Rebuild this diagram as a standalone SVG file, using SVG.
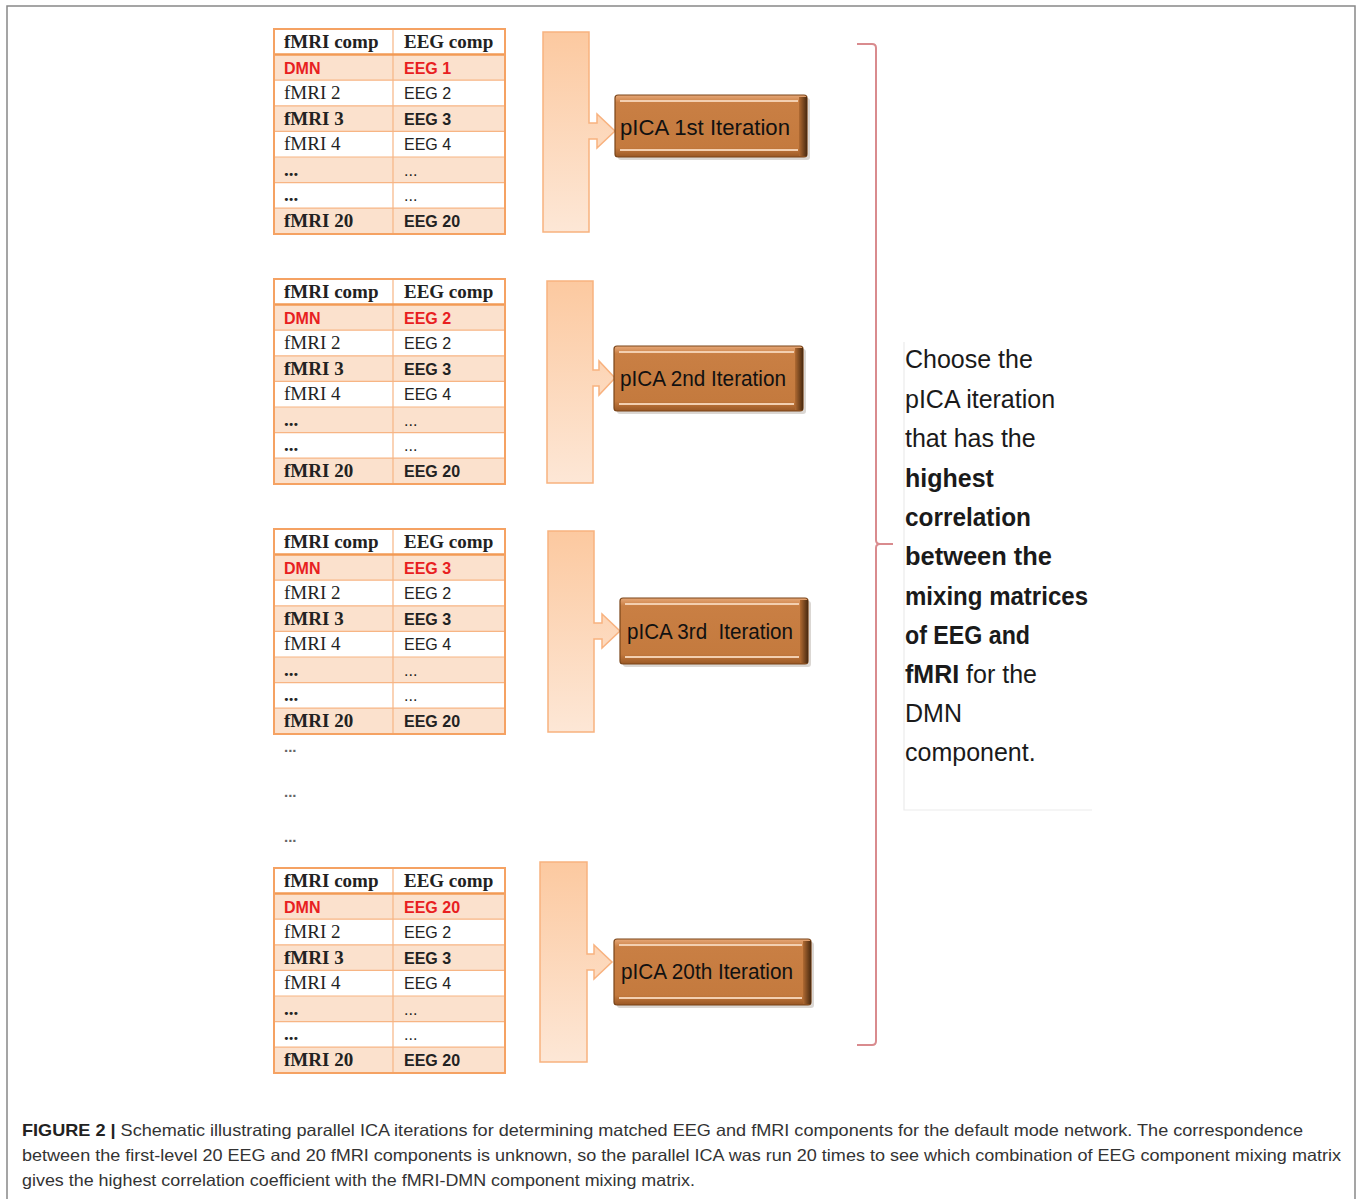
<svg xmlns="http://www.w3.org/2000/svg" width="1357" height="1199" viewBox="0 0 1357 1199">
<defs>
<linearGradient id="barG" x1="0" y1="0" x2="0" y2="1">
<stop offset="0" stop-color="#fcc9a0"/>
<stop offset="1" stop-color="#fde7d6"/>
</linearGradient>
<linearGradient id="boxG" x1="0" y1="0" x2="0" y2="1">
<stop offset="0" stop-color="#e7a878"/>
<stop offset="0.12" stop-color="#c97f44"/>
<stop offset="0.85" stop-color="#c47a3e"/>
<stop offset="1" stop-color="#9a5825"/>
</linearGradient>
<linearGradient id="edgeG" x1="0" y1="0" x2="1" y2="0">
<stop offset="0" stop-color="#b06a32"/>
<stop offset="1" stop-color="#4a2a10"/>
</linearGradient>
</defs>
<style>
.frame{fill:none;stroke:#888;stroke-width:1.5}
.tb{fill:none;stroke:#f5a263;stroke-width:2}
.tl{stroke:#f7b584;stroke-width:1.2}
.th{stroke:#f29a55;stroke-width:2.5}
.sh{fill:#fbe1cd}
.ser{font-family:"Liberation Serif",serif;font-size:19px;fill:#222}
.san{font-family:"Liberation Sans",sans-serif;font-size:16px;fill:#222}
.b{font-weight:bold}
.red{fill:#e8201f}
.bar{fill:url(#barG);stroke:#f8b27f;stroke-width:1.5}
.box{fill:url(#boxG);stroke:#7a4519;stroke-width:1.2}
.hl{stroke:#f3cfb0;stroke-width:2;fill:none}
.bt{font-family:"Liberation Sans",sans-serif;font-size:22px;fill:#111}
.dots{font-family:"Liberation Sans",sans-serif;font-size:15px;fill:#666;font-weight:bold}
.side{font-family:"Liberation Sans",sans-serif;font-size:25px;fill:#1a1a1a}
.cap{font-family:"Liberation Sans",sans-serif;font-size:16.5px;fill:#333}
.brace{fill:none;stroke:#d98b8e;stroke-width:2}
</style>
<path class="frame" d="M7,1199 V6 H1355 V1199"/>

<g id="table1" transform="translate(274,29)">
<rect class="sh" x="0" y="25.6" width="231" height="25.6"/>
<rect class="sh" x="0" y="76.8" width="231" height="25.6"/>
<rect class="sh" x="0" y="128" width="231" height="25.6"/>
<rect class="sh" x="0" y="179.2" width="231" height="25.8"/>
<line class="tl" x1="0" y1="51.2" x2="231" y2="51.2"/><line class="tl" x1="0" y1="76.8" x2="231" y2="76.8"/><line class="tl" x1="0" y1="102.4" x2="231" y2="102.4"/><line class="tl" x1="0" y1="128" x2="231" y2="128"/><line class="tl" x1="0" y1="153.6" x2="231" y2="153.6"/><line class="tl" x1="0" y1="179.2" x2="231" y2="179.2"/>
<line class="tl" x1="119" y1="0" x2="119" y2="205"/>
<line class="th" x1="0" y1="25.6" x2="231" y2="25.6"/>
<rect class="tb" x="0" y="0" width="231" height="205"/>
<text class="ser b" x="10" y="19">fMRI comp</text><text class="ser b" x="130" y="19">EEG comp</text>
<text class="san b red" x="10" y="45" font-size="17">DMN</text><text class="san b red" x="130" y="45">EEG 1</text>
<text class="ser" x="10" y="70">fMRI 2</text><text class="san" x="130" y="70">EEG 2</text>
<text class="ser b" x="10" y="96">fMRI 3</text><text class="san b" x="130" y="96">EEG 3</text>
<text class="ser" x="10" y="121">fMRI 4</text><text class="san" x="130" y="121">EEG 4</text>
<text class="ser b" x="10" y="147">...</text><text class="san" x="130" y="147">...</text>
<text class="ser b" x="10" y="172">...</text><text class="san" x="130" y="172">...</text>
<text class="ser b" x="10" y="198">fMRI 20</text><text class="san b" x="130" y="198">EEG 20</text>
</g>

<g id="table2" transform="translate(274,279)">
<rect class="sh" x="0" y="25.6" width="231" height="25.6"/>
<rect class="sh" x="0" y="76.8" width="231" height="25.6"/>
<rect class="sh" x="0" y="128" width="231" height="25.6"/>
<rect class="sh" x="0" y="179.2" width="231" height="25.8"/>
<line class="tl" x1="0" y1="51.2" x2="231" y2="51.2"/><line class="tl" x1="0" y1="76.8" x2="231" y2="76.8"/><line class="tl" x1="0" y1="102.4" x2="231" y2="102.4"/><line class="tl" x1="0" y1="128" x2="231" y2="128"/><line class="tl" x1="0" y1="153.6" x2="231" y2="153.6"/><line class="tl" x1="0" y1="179.2" x2="231" y2="179.2"/>
<line class="tl" x1="119" y1="0" x2="119" y2="205"/>
<line class="th" x1="0" y1="25.6" x2="231" y2="25.6"/>
<rect class="tb" x="0" y="0" width="231" height="205"/>
<text class="ser b" x="10" y="19">fMRI comp</text><text class="ser b" x="130" y="19">EEG comp</text>
<text class="san b red" x="10" y="45" font-size="17">DMN</text><text class="san b red" x="130" y="45">EEG 2</text>
<text class="ser" x="10" y="70">fMRI 2</text><text class="san" x="130" y="70">EEG 2</text>
<text class="ser b" x="10" y="96">fMRI 3</text><text class="san b" x="130" y="96">EEG 3</text>
<text class="ser" x="10" y="121">fMRI 4</text><text class="san" x="130" y="121">EEG 4</text>
<text class="ser b" x="10" y="147">...</text><text class="san" x="130" y="147">...</text>
<text class="ser b" x="10" y="172">...</text><text class="san" x="130" y="172">...</text>
<text class="ser b" x="10" y="198">fMRI 20</text><text class="san b" x="130" y="198">EEG 20</text>
</g>

<g id="table3" transform="translate(274,529)">
<rect class="sh" x="0" y="25.6" width="231" height="25.6"/>
<rect class="sh" x="0" y="76.8" width="231" height="25.6"/>
<rect class="sh" x="0" y="128" width="231" height="25.6"/>
<rect class="sh" x="0" y="179.2" width="231" height="25.8"/>
<line class="tl" x1="0" y1="51.2" x2="231" y2="51.2"/><line class="tl" x1="0" y1="76.8" x2="231" y2="76.8"/><line class="tl" x1="0" y1="102.4" x2="231" y2="102.4"/><line class="tl" x1="0" y1="128" x2="231" y2="128"/><line class="tl" x1="0" y1="153.6" x2="231" y2="153.6"/><line class="tl" x1="0" y1="179.2" x2="231" y2="179.2"/>
<line class="tl" x1="119" y1="0" x2="119" y2="205"/>
<line class="th" x1="0" y1="25.6" x2="231" y2="25.6"/>
<rect class="tb" x="0" y="0" width="231" height="205"/>
<text class="ser b" x="10" y="19">fMRI comp</text><text class="ser b" x="130" y="19">EEG comp</text>
<text class="san b red" x="10" y="45" font-size="17">DMN</text><text class="san b red" x="130" y="45">EEG 3</text>
<text class="ser" x="10" y="70">fMRI 2</text><text class="san" x="130" y="70">EEG 2</text>
<text class="ser b" x="10" y="96">fMRI 3</text><text class="san b" x="130" y="96">EEG 3</text>
<text class="ser" x="10" y="121">fMRI 4</text><text class="san" x="130" y="121">EEG 4</text>
<text class="ser b" x="10" y="147">...</text><text class="san" x="130" y="147">...</text>
<text class="ser b" x="10" y="172">...</text><text class="san" x="130" y="172">...</text>
<text class="ser b" x="10" y="198">fMRI 20</text><text class="san b" x="130" y="198">EEG 20</text>
</g>

<g id="table4" transform="translate(274,868)">
<rect class="sh" x="0" y="25.6" width="231" height="25.6"/>
<rect class="sh" x="0" y="76.8" width="231" height="25.6"/>
<rect class="sh" x="0" y="128" width="231" height="25.6"/>
<rect class="sh" x="0" y="179.2" width="231" height="25.8"/>
<line class="tl" x1="0" y1="51.2" x2="231" y2="51.2"/><line class="tl" x1="0" y1="76.8" x2="231" y2="76.8"/><line class="tl" x1="0" y1="102.4" x2="231" y2="102.4"/><line class="tl" x1="0" y1="128" x2="231" y2="128"/><line class="tl" x1="0" y1="153.6" x2="231" y2="153.6"/><line class="tl" x1="0" y1="179.2" x2="231" y2="179.2"/>
<line class="tl" x1="119" y1="0" x2="119" y2="205"/>
<line class="th" x1="0" y1="25.6" x2="231" y2="25.6"/>
<rect class="tb" x="0" y="0" width="231" height="205"/>
<text class="ser b" x="10" y="19">fMRI comp</text><text class="ser b" x="130" y="19">EEG comp</text>
<text class="san b red" x="10" y="45" font-size="17">DMN</text><text class="san b red" x="130" y="45">EEG 20</text>
<text class="ser" x="10" y="70">fMRI 2</text><text class="san" x="130" y="70">EEG 2</text>
<text class="ser b" x="10" y="96">fMRI 3</text><text class="san b" x="130" y="96">EEG 3</text>
<text class="ser" x="10" y="121">fMRI 4</text><text class="san" x="130" y="121">EEG 4</text>
<text class="ser b" x="10" y="147">...</text><text class="san" x="130" y="147">...</text>
<text class="ser b" x="10" y="172">...</text><text class="san" x="130" y="172">...</text>
<text class="ser b" x="10" y="198">fMRI 20</text><text class="san b" x="130" y="198">EEG 20</text>
</g>

<g id="ellipses">
<text class="dots" x="284" y="752">...</text>
<text class="dots" x="284" y="797">...</text>
<text class="dots" x="284" y="842">...</text>
</g>

<g id="connectors">
<path id="arrow1" class="bar" d="M543,32 H589 V123 H597 V114 L615,131 L597,148 V139 H589 V232 H543 Z"/>
<path id="arrow2" class="bar" d="M547,281 H593 V370 H599 V361 L615,378 L599,395 V386 H593 V483 H547 Z"/>
<path id="arrow3" class="bar" d="M548,531 H594 V623 H602 V614 L620,631 L602,648 V639 H594 V732 H548 Z"/>
<path id="arrow4" class="bar" d="M540,862 H587 V954 H594 V945 L612,962 L594,979 V970 H587 V1062 H540 Z"/>
<path id="brace" class="brace" d="M857,44 H872 Q876,44 876,48 V540 Q876,544 880,544 H893 M880,544 Q876,544 876,548 V1041 Q876,1045 872,1045 H857"/>
</g>

<g id="box1">
<rect x="618" y="98" width="192" height="62" rx="3" fill="#b8b0a8" opacity="0.5"/>
<rect class="box" x="615" y="95" width="192" height="62" rx="3"/>
<rect x="799" y="97" width="8" height="59" fill="url(#edgeG)"/>
<line class="hl" x1="620" y1="101" x2="798" y2="101"/>
<line class="hl" x1="620" y1="150" x2="798" y2="150"/>
<text class="bt" x="620" y="135" textLength="170" lengthAdjust="spacingAndGlyphs">pICA 1st Iteration</text>
</g>
<g id="box2">
<rect x="617" y="349" width="189" height="65" rx="3" fill="#b8b0a8" opacity="0.5"/>
<rect class="box" x="614" y="346" width="189" height="65" rx="3"/>
<rect x="795" y="348" width="8" height="62" fill="url(#edgeG)"/>
<line class="hl" x1="619" y1="352" x2="794" y2="352"/>
<line class="hl" x1="619" y1="404" x2="794" y2="404"/>
<text class="bt" x="620" y="386" textLength="166" lengthAdjust="spacingAndGlyphs">pICA 2nd Iteration</text>
</g>
<g id="box3">
<rect x="623" y="601" width="188" height="66" rx="3" fill="#b8b0a8" opacity="0.5"/>
<rect class="box" x="620" y="598" width="188" height="66" rx="3"/>
<rect x="800" y="600" width="8" height="63" fill="url(#edgeG)"/>
<line class="hl" x1="625" y1="604" x2="799" y2="604"/>
<line class="hl" x1="625" y1="657" x2="799" y2="657"/>
<text class="bt" x="627" y="639" textLength="166" lengthAdjust="spacingAndGlyphs" xml:space="preserve">pICA 3rd  Iteration</text>
</g>
<g id="box4">
<rect x="617" y="942" width="197" height="66" rx="3" fill="#b8b0a8" opacity="0.5"/>
<rect class="box" x="614" y="939" width="197" height="66" rx="3"/>
<rect x="803" y="941" width="8" height="63" fill="url(#edgeG)"/>
<line class="hl" x1="619" y1="945" x2="802" y2="945"/>
<line class="hl" x1="619" y1="998" x2="802" y2="998"/>
<text class="bt" x="621" y="979" textLength="172" lengthAdjust="spacingAndGlyphs">pICA 20th Iteration</text>
</g>

<g id="note">
<path d="M904,342 V810 H1092" fill="none" stroke="#ebebeb" stroke-width="1.2"/>
<text class="side" x="905" y="368">Choose the</text>
<text class="side" x="905" y="408">pICA iteration</text>
<text class="side" x="905" y="447">that has the</text>
<text class="side b" x="905" y="487">highest</text>
<text class="side b" x="905" y="526" textLength="126" lengthAdjust="spacingAndGlyphs">correlation</text>
<text class="side b" x="905" y="565" textLength="147" lengthAdjust="spacingAndGlyphs">between the</text>
<text class="side b" x="905" y="605" textLength="183" lengthAdjust="spacingAndGlyphs">mixing matrices</text>
<text class="side b" x="905" y="644" textLength="125" lengthAdjust="spacingAndGlyphs">of EEG and</text>
<text class="side" x="905" y="683"><tspan font-weight="bold">fMRI</tspan> for the</text>
<text class="side" x="905" y="722">DMN</text>
<text class="side" x="905" y="761">component.</text>
</g>

<g id="caption">
<text class="cap" x="22" y="1136" textLength="1281" lengthAdjust="spacingAndGlyphs"><tspan font-weight="bold" fill="#222">FIGURE 2 |</tspan> Schematic illustrating parallel ICA iterations for determining matched EEG and fMRI components for the default mode network. The correspondence</text>
<text class="cap" x="22" y="1161" textLength="1319" lengthAdjust="spacingAndGlyphs">between the first-level 20 EEG and 20 fMRI components is unknown, so the parallel ICA was run 20 times to see which combination of EEG component mixing matrix</text>
<text class="cap" x="22" y="1186" textLength="673" lengthAdjust="spacingAndGlyphs">gives the highest correlation coefficient with the fMRI-DMN component mixing matrix.</text>
</g>
</svg>
